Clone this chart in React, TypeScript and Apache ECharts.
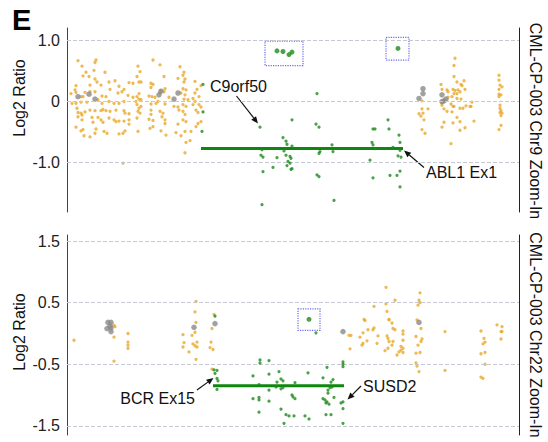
import React, { useEffect, useRef } from "react";
import * as echarts from "echarts";

// ---------- DATA (x = relative genomic position, v = log2 ratio) ----------
const chr9Ticks = [1, 0, -1];
const chr22Ticks = [1.5, 0.5, -0.5, -1.5];

const chr9Orange: [number, number][] = [
  [11,0.67],[15,0.58],[29,0.68],[28,0.64],[19,0.48],[16,0.42],[27,0.51],[38,0.48],[22,0.41],[28,0.37],[30,0.32],[9,0.26],[23,0.27],[34,0.27],[42,0.32],[48,0.34],[52,0.25],[62,0.31],[66,0.3],[8,0.19],[4,0.13],[9,0.15],[18,0.15],[23,0.16],[28,0.16],[43,0.2],[55,0.16],[57,0.2],[61,0.1],[14,0.08],[16,0.08],[35,0.09],[39,0.08],[51,0.14],[66,0.07],[5,-0.03],[9,-0.03],[14,-0.01],[20,-0.01],[31,0.03],[35,-0.03],[42,0],[47,-0.03],[52,-0.03],[57,0],[10,-0.11],[11,-0.18],[14,-0.19],[18,-0.17],[23,-0.14],[28,-0.15],[34,-0.15],[36,-0.13],[39,-0.15],[43,-0.16],[49,-0.14],[57,-0.15],[58,-0.19],[62,-0.2],[11,-0.25],[15,-0.22],[25,-0.26],[31,-0.26],[34,-0.3],[42,-0.27],[47,-0.3],[52,-0.32],[62,-0.3],[15,-0.3],[26,-0.34],[36,-0.34],[49,-0.33],[57,-0.32],[62,-0.37],[9,-0.42],[14,-0.48],[16,-0.46],[29,-0.45],[37,-0.49],[40,-0.52],[52,-0.53],[56,-0.52],[58,-0.48],[17,-0.56],[23,-0.58],[28,-0.52],[56,-1.01],
  [86,0.68],[93,0.6],[113,0.57],[117,0.48],[116,0.43],[71,0.58],[73,0.49],[70,0.41],[72,0.32],[74,0.32],[97,0.41],[111,0.38],[118,0.37],[117,0.32],[128,0.33],[84,0.3],[86,0.28],[84,0.23],[98,0.21],[97,0.16],[94,0.18],[93,0.14],[116,0.21],[119,0.19],[114,0.14],[118,0.11],[130,0.2],[128,0.14],[134,0.26],[72,0.13],[70,0.08],[72,0.04],[74,0.03],[82,0.09],[85,0.08],[88,0.07],[91,0],[102,0.07],[117,0.04],[121,0.03],[126,0.05],[128,0],[132,0.08],[69,0],[70,-0.05],[72,-0.11],[74,-0.08],[84,-0.04],[89,-0.03],[98,-0.04],[107,-0.08],[111,-0.09],[116,-0.05],[119,-0.08],[126,-0.05],[132,-0.05],[134,-0.09],[71,-0.16],[73,-0.19],[70,-0.27],[84,-0.14],[84,-0.21],[93,-0.16],[96,-0.19],[95,-0.25],[112,-0.14],[116,-0.16],[118,-0.21],[129,-0.14],[131,-0.18],[82,-0.29],[86,-0.31],[98,-0.3],[98,-0.36],[111,-0.37],[119,-0.33],[116,-0.3],[129,-0.41],[131,-0.36],[134,-0.33],[83,-0.44],[86,-0.41],[94,-0.48],[99,-0.55],[109,-0.51],[114,-0.56],[118,-0.49],[124,-0.49],[123,-0.64],[119,-0.67],[118,-0.84],[71,-0.49],
  [388,0.71],[387,0.59],[387,0.41],[397,0.34],[390,0.32],[394,0.28],[395,0.26],[374,0.28],[380,0.19],[381,0.16],[375,0.2],[386,0.2],[388,0.18],[391,0.19],[398,0.2],[387,0.13],[390,0.13],[393,0.16],[381,0.07],[385,0.08],[390,0.05],[394,0.04],[405,-0.01],[375,-0.02],[375,-0.06],[384,-0.04],[386,-0.08],[387,-0.08],[399,-0.07],[403,-0.08],[404,-0.08],[396,-0.11],[393,-0.11],[377,-0.12],[380,-0.16],[385,-0.17],[355,0.01],[355,-0.12],[361,-0.12],[352,-0.2],[356,-0.19],[354,-0.24],[357,-0.3],[390,-0.26],[377,-0.34],[386,-0.35],[393,-0.33],[407,-0.32],[398,-0.43],[393,-0.47],[375,-0.42],[355,-0.46],[358,-0.52],[384,-0.69],[432,0.43],[432,0.35],[433,0.27],[432,0.2],[435,0.24],[432,0.12],[434,0.11],[432,0.08],[433,-0.06],[433,-0.11],[434,-0.15],[433,-0.18],[435,-0.19],[434,-0.23],[434,-0.39],[432,-0.46]
];
const chr9Gray: [number, number][] = [
  [11,0.08],[22,0.12],[28,0.04],[94,0.17],[92,0.11],[111,0.14],[107,0.04],[356,0.21],[356,0.13],[352,0.05],[375,0.11],[379,0.04],[377,0.01],[375,0]
];
const chr9Green: [number, number][] = [
  [136,0.28],[136,-0.17],[135,-0.49],[193,-0.42],[250,0.13],[225,-0.3],[249,-0.37],[252,-0.42],[216,-0.59],[219,-0.65],[220,-0.7],[225,-0.73],[195,-0.79],[194,-0.88],[196,-0.91],[217,-0.81],[219,-0.88],[223,-0.9],[224,-0.93],[221,-0.98],[223,-1.01],[220,-1.05],[224,-1.11],[225,-1.1],[210,-0.92],[206,-1.08],[196,-1.15],[195,-1.69],[252,-0.85],[253,-0.82],[265,-0.71],[266,-0.82],[250,-1.2],[252,-1.23],[267,-1.62],[305,-0.67],[306,-0.45],[308,-0.45],[306,-0.71],[308,-0.77],[303,-0.96],[306,-1.25],[321,-0.3],[322,-0.45],[326,-0.75],[332,-0.55],[333,-0.67],[333,-0.8],[331,-0.89],[334,-0.91],[333,-1.14],[323,-1.21],[330,-1.21],[333,-1.4]
];
const chr9Boxed: [number, number][] = [[210,0.83],[216,0.82],[222,0.77],[225,0.81],[331,0.87]];
const chr9BoxAreas: [number, number, number, number][] = [[198,0.99,236,0.59],[319,1.05,342,0.68]];
const abl1SegX = [134, 336];
const abl1SegV = -0.77;

const chr22Orange: [number, number][] = [
  [7,-0.11],[47,0.13],[48,0.11],[47,-0.06],[61,0],[61,-0.14],[61,-0.19],[61,-0.24],[47,-0.45],[129,0.52],[128,0.35],[129,0.18],[128,0.02],[125,-0.03],[116,-0.02],[117,-0.15],[116,-0.22],[126,-0.17],[128,-0.2],[130,-0.14],[130,-0.22],[122,-0.3],[129,-0.42],[147,0.31],[145,0.08],[144,-0.14],[143,-0.23],[146,-0.26],[145,-0.58],
  [319,0.75],[328,0.54],[319,0.48],[307,0.44],[320,0.36],[322,0.23],[322,0.22],[325,0.17],[297,0.23],[298,0.21],[307,0.09],[306,0.06],[301,0.06],[296,0.01],[326,0.08],[328,0.06],[336,0.04],[336,-0.01],[282,-0.03],[284,-0.03],[293,-0.06],[311,-0.04],[320,-0.04],[321,-0.08],[300,-0.12],[296,-0.16],[295,-0.19],[310,-0.16],[322,-0.13],[326,-0.13],[336,-0.11],[325,-0.19],[334,-0.21],[336,-0.24],[334,-0.27],[332,-0.3],[336,-0.31],[321,-0.24],[318,-0.28],[330,-0.35],[283,-0.25],
  [353,0.66],[352,0.54],[353,0.5],[351,0.46],[350,0.22],[354,0.08],[349,-0.05],[355,-0.09],[354,-0.13],[351,-0.19],[353,-0.31],[349,-0.32],[349,-0.48],[350,-0.53],[352,-0.62],[378,0.03],[378,-0.6],[414,0.04],[417,-0.08],[418,-0.14],[416,-0.17],[414,-0.33],[418,-0.31],[418,-0.5],[414,-0.71],[416,-0.73],[430,0.14],[435,0.11],[435,0.03],[434,0.03],[434,-0.09]
];
const chr22Gray: [number, number][] = [
  [41,0.18],[44,0.18],[40,0.08],[44,0.09],[44,0.03],[43,0.12],[127,0.1],[148,0.16],[276,0.03],[352,0.18]
];
const chr22Green: [number, number][] = [
  [148,0.28],[147,-0.59],[150,-0.6],[148,-0.65],[150,-0.73],[151,-0.77],[150,-0.91],[193,-0.43],[193,-0.48],[202,-0.44],[186,-0.69],[202,-0.66],[212,-0.62],[192,-0.83],[210,-0.79],[214,-0.74],[216,-0.77],[228,-0.8],[241,-0.64],[256,-0.72],[260,-0.55],[266,-0.75],[264,-0.79],[261,-0.92],[263,-0.88],[265,-0.87],[261,-0.97],[202,-0.92],[209,-0.87],[214,-0.9],[216,-0.88],[186,-1.06],[192,-1.04],[192,-1.08],[202,-1.1],[225,-1.0],[226,-1.03],[228,-1.06],[256,-1.06],[258,-1.08],[260,-1.11],[267,-1.04],[259,-1.13],[262,-1.15],[274,-1.13],[276,-1.11],[276,-1.22],[214,-1.23],[192,-1.28],[219,-1.32],[222,-1.34],[227,-1.34],[238,-1.34],[242,-1.39],[259,-1.32],[264,-1.32],[217,-1.46],[276,-1.46],[249,0.01],[276,-0.46],[276,-0.5],[276,-0.54]
];
const chr22Boxed: [number, number][] = [[242,0.23]];
const chr22BoxAreas: [number, number, number, number][] = [[231,0.4,253,0.05]];
const bcrSegX = [146, 277];
const bcrSegV = -0.85;

// ---------- STYLE ----------
const FONT = "'Liberation Sans', Arial, sans-serif";
const ORANGE = "#E8A92A";
const GREEN = "#1B8A1B";
const GRAY = "#8a8a8a";
const BOX = "#6a6af2";

function arrow(x1: number, y1: number, x2: number, y2: number) {
  const a = Math.atan2(y2 - y1, x2 - x1);
  const L = 7, W = 3;
  const bx = x2 - L * Math.cos(a), by = y2 - L * Math.sin(a);
  return {
    type: "group",
    children: [
      { type: "line", shape: { x1, y1, x2: bx, y2: by }, style: { stroke: "#111", lineWidth: 1.2 } },
      {
        type: "polygon",
        shape: { points: [[x2, y2], [bx + W * Math.sin(a), by - W * Math.cos(a)], [bx - W * Math.sin(a), by + W * Math.cos(a)]] },
        style: { fill: "#111" },
      },
    ],
  };
}

function label(text: string, x: number, y: number, align: string = "left", rotation = 0, size = 16) {
  return {
    type: "text", x, y, rotation,
    style: { text, fill: "#111", fontSize: size, fontFamily: FONT, textAlign: align, textVerticalAlign: "middle" },
  };
}

function panelSeries(p: number, orange: any[], gray: any[], green: any[], boxed: any[], boxes: any[], segX: number[], segV: number, ticks: number[]) {
  const base = { xAxisIndex: p, yAxisIndex: p * 2 };
  return [
    {
      ...base, type: "scatter", data: orange, symbolSize: 3.3, itemStyle: { color: ORANGE }, z: 2,
      markLine: {
        silent: true, symbol: ["none", "none"], label: { show: false },
        lineStyle: { type: "dashed", color: "#c6c9d3", width: 1 },
        data: ticks.map((t) => ({ yAxis: t })),
      },
    },
    { ...base, type: "scatter", data: gray, symbolSize: 5.5, itemStyle: { color: GRAY }, z: 3 },
    {
      ...base, type: "line", data: segX.map((x) => [x, segV]), showSymbol: false, symbol: "none",
      lineStyle: { color: "#0f870f", width: 3 }, z: 4,
    },
    { ...base, type: "scatter", data: green, symbolSize: 3.2, itemStyle: { color: GREEN }, z: 5 },
    {
      ...base, type: "scatter", data: boxed, symbolSize: 5, itemStyle: { color: GREEN }, z: 5,
      markArea: {
        silent: true,
        itemStyle: { color: "rgba(0,0,0,0)", borderColor: BOX, borderWidth: 1.2, borderType: "dotted" },
        data: boxes.map((b) => [{ coord: [b[0], b[1]] }, { coord: [b[2], b[3]] }]),
      },
    },
  ];
}

function yAxes(p: number, min: number, max: number, ticks: number[]) {
  return [
    {
      gridIndex: p, type: "value", min, max,
      axisLine: { show: true, lineStyle: { color: "#444", width: 1 } },
      axisTick: { show: false }, splitLine: { show: false },
      axisLabel: {
        customValues: ticks, fontSize: 16, color: "#222", margin: 7, fontFamily: FONT,
        formatter: (v: number) => (v === 0 ? "0" : v.toFixed(1)),
      },
    },
    {
      gridIndex: p, type: "value", min, max, position: "right",
      axisLine: { show: true, lineStyle: { color: "#222", width: 1 } },
      axisTick: { show: false }, splitLine: { show: false }, axisLabel: { show: false },
    },
  ];
}

export default function App() {
  const ref = useRef<HTMLDivElement>(null);
  useEffect(() => {
    const chart = echarts.init(ref.current!, null, { renderer: "svg" });
    const option: any = {
      animation: false,
      backgroundColor: "#fff",
      grid: [
        { left: 67, right: 29, top: 28, height: 184 },
        { left: 67, right: 29, top: 235, height: 200 },
      ],
      xAxis: [
        { gridIndex: 0, type: "value", min: 0, max: 452, show: false },
        { gridIndex: 1, type: "value", min: 0, max: 452, show: false },
      ],
      yAxis: [...yAxes(0, -1.81, 1.205, chr9Ticks), ...yAxes(1, -1.65, 1.6, chr22Ticks)],
      series: [
        ...panelSeries(0, chr9Orange, chr9Gray, chr9Green, chr9Boxed, chr9BoxAreas, abl1SegX, abl1SegV, chr9Ticks),
        ...panelSeries(1, chr22Orange, chr22Gray, chr22Green, chr22Boxed, chr22BoxAreas, bcrSegX, bcrSegV, chr22Ticks),
      ],
      graphic: [
        {
          type: "text", x: 12, y: 20,
          style: { text: "E", fill: "#000", fontSize: 29, fontWeight: "bold", fontFamily: FONT, textVerticalAlign: "middle" },
        },
        label("Log2 Ratio", 19, 98, "center", Math.PI / 2),
        label("Log2 Ratio", 19, 332, "center", Math.PI / 2),
        label("CML-CP-003 Chr9 Zoom-In", 535, 121, "center", -Math.PI / 2),
        label("CML-CP-003 Chr22 Zoom-In", 535, 335, "center", -Math.PI / 2),
        label("C9orf50", 210, 86),
        arrow(236.5, 96, 258, 123.5),
        label("ABL1 Ex1", 426, 172),
        arrow(424, 167.5, 404, 150.5),
        label("BCR Ex15", 195, 398, "right"),
        arrow(197, 390, 213.5, 378),
        label("SUSD2", 363, 386),
        arrow(361, 386, 347.5, 399.5),
      ],
    };
    chart.setOption(option);
    return () => chart.dispose();
  }, []);
  return <div ref={ref} style={{ width: 548, height: 442, position: "absolute", left: 0, top: 0 }} />;
}
